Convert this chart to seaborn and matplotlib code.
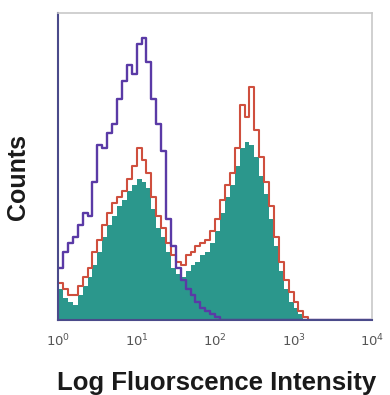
import numpy as np
import pandas as pd
import matplotlib
matplotlib.use("Agg")
import matplotlib.pyplot as plt
import seaborn as sns

# log10 fluorescence bins, 1/16 decade wide, 0..4
BIN_WIDTH = 0.0625
N_BINS = 64

# isotype control (purple outline), % of axis height
control = [17, 22, 25, 27, 31, 35, 34, 45, 57, 56, 61, 64, 72, 78, 83, 80,
           90, 92, 84, 72, 64, 55, 33, 24, 17, 13, 10, 8, 6, 4, 3, 2,
           1, 0, 0, 0, 0, 0, 0, 0, 0, 0, 0, 0, 0, 0, 0, 0,
           0, 0, 0, 0, 0, 0, 0, 0, 0, 0, 0, 0, 0, 0, 0, 0]

# stained sample, red outline
stained_edge = [12, 10, 8, 8, 11, 14, 17, 22, 26, 31, 35, 38, 40, 42, 46, 50,
                56, 52, 48, 40, 34, 30, 25, 21, 19, 18, 21, 22, 24, 25, 26, 29,
                33, 39, 44, 48, 56, 70, 66, 76, 62, 53, 45, 37, 27, 19, 13, 9,
                6, 3, 1, 0, 0, 0, 0, 0, 0, 0, 0, 0, 0, 0, 0, 0]

# stained sample, teal fill
stained_fill = [10, 7, 6, 5, 8, 11, 14, 18, 22, 27, 31, 34, 37, 39, 42, 44,
                46, 45, 43, 36, 30, 27, 22, 17, 15, 14, 16, 18, 19, 21, 22, 25,
                29, 35, 40, 44, 50, 56, 58, 57, 53, 47, 41, 33, 24, 16, 10, 6,
                4, 2, 0, 0, 0, 0, 0, 0, 0, 0, 0, 0, 0, 0, 0, 0]

tick_pos = [0, 1, 2, 3, 4]
tick_labels = [r"$10^0$", r"$10^1$", r"$10^2$", r"$10^3$", r"$10^4$"]

centers = np.arange(N_BINS) * BIN_WIDTH + BIN_WIDTH / 2
df = pd.DataFrame({"logfl": centers, "control": control,
                   "edge": stained_edge, "fill": stained_fill})

sns.set_style("white")
plt.rcParams["font.family"] = ["Liberation Sans", "DejaVu Sans"]

fig = plt.figure(figsize=(3.9, 3.95), dpi=100)
ax = fig.add_axes([0.149, 0.19, 0.805, 0.777])

hist_kw = dict(data=df, x="logfl", bins=N_BINS, binrange=(0, 4),
               element="step", ax=ax)
sns.histplot(weights="fill", fill=True, color="#2b978c", alpha=1,
             linewidth=0, **hist_kw)
sns.histplot(weights="edge", fill=False, color="#cf4f3e", linewidth=1.5,
             **hist_kw)
sns.histplot(weights="control", fill=False, color="#5a3aa6", linewidth=1.7,
             **hist_kw)

ax.set_xlim(0, 4)
ax.set_ylim(0, 100)
ax.set_xticks(tick_pos)
ax.set_xticklabels(tick_labels, fontsize=9.5, color="#555555")
ax.set_yticks([])
ax.tick_params(axis="x", length=0, pad=9)

for side in ["left", "bottom"]:
    ax.spines[side].set_color("#4a4a8a")
    ax.spines[side].set_linewidth(1.5)
for side in ["top", "right"]:
    ax.spines[side].set_color("#c8c8c8")
    ax.spines[side].set_linewidth(1.2)

ax.set_xlabel("")
ax.set_ylabel("")
fig.text(0.555, 0.013, "Log Fluorscence Intensity", ha="center",
         va="baseline", fontsize=18.5, fontweight="bold", color="#1a1a1a")
fig.text(0.046, 0.552, "Counts", ha="center", va="center", rotation=90,
         fontsize=18, fontweight="bold", color="#1a1a1a")

fig.savefig("out.png", dpi=100)
